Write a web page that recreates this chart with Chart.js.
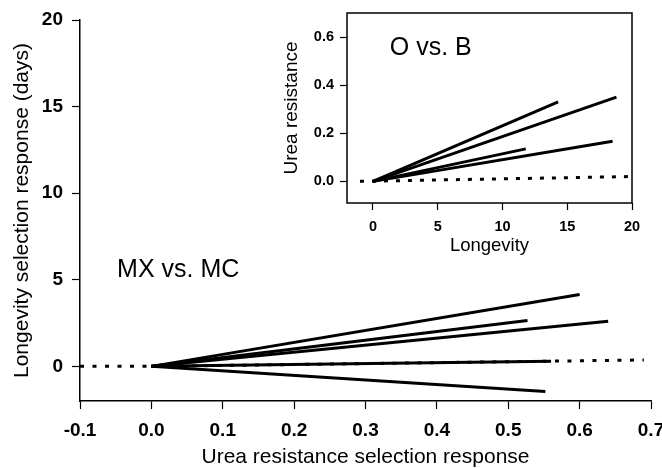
<!DOCTYPE html>
<html>
<head>
<meta charset="utf-8">
<script src="https://cdn.jsdelivr.net/npm/chart.js@4"></script>
<style>
  html, body { margin: 0; padding: 0; background: #fff; }
  #wrap { position: relative; width: 662px; height: 468px; }
  #mainChart { position: absolute; left: 0; top: 0; }
  #insetChart { position: absolute; left: 280px; top: 0; }
</style>
</head>
<body>
<div id="wrap">
  <canvas id="mainChart" width="662" height="468"></canvas>
  <canvas id="insetChart" width="382" height="260"></canvas>
</div>
<script>
// --- dati grafico principale (MX vs. MC) ---
const mainEndX = [0.60, 0.527, 0.64, 0.56, 0.552];
const mainEndY = [4.15, 2.65, 2.6, 0.3, -1.45];
const mainRefX = [-0.1, 0, 0.69];
const mainRefY = [0, 0, 0.37];
const mainXTicks = [-0.1, 0, 0.1, 0.2, 0.3, 0.4, 0.5, 0.6, 0.7];
const mainYTicks = [0, 5, 10, 15, 20];

// --- dati inserto (O vs. B) ---
const insetEndX = [14.3, 18.8, 11.8, 18.5];
const insetEndY = [0.33, 0.35, 0.135, 0.167];
const insetRefX = [-1, 20];
const insetRefY = [0, 0.02];
const insetXTicks = [0, 5, 10, 15, 20];
const insetYTicks = [0, 0.2, 0.4, 0.6];

const FONT = "'Liberation Sans', Arial, sans-serif";

function rayDatasets(endX, endY, width) {
  return endX.map((x, i) => ({
    data: [{ x: 0, y: 0 }, { x: x, y: endY[i] }],
    showLine: true,
    borderColor: "#000",
    borderWidth: width,
    pointRadius: 0,
    borderCapStyle: "butt",
  }));
}

function refDataset(xs, ys, dash) {
  return {
    data: xs.map((x, i) => ({ x: x, y: ys[i] })),
    showLine: true,
    borderColor: "#000",
    borderWidth: 3,
    borderDash: dash,
    pointRadius: 0,
  };
}

// Testo dentro il grafico, in coordinate dei dati
const labelPlugin = {
  id: "panelLabel",
  afterDatasetsDraw(chart, args, opts) {
    const { ctx, scales } = chart;
    ctx.save();
    ctx.font = opts.font;
    ctx.fillStyle = "#000";
    ctx.textAlign = "left";
    ctx.textBaseline = "middle";
    ctx.fillText(opts.text, scales.x.getPixelForValue(opts.x), scales.y.getPixelForValue(opts.y));
    ctx.restore();
  },
};

// Cornice completa per l'inserto
const framePlugin = {
  id: "frame",
  afterDraw(chart) {
    const { ctx, chartArea: a } = chart;
    ctx.save();
    ctx.strokeStyle = "#000";
    ctx.lineWidth = 1.5;
    ctx.strokeRect(a.left, a.top, a.right - a.left, a.bottom - a.top);
    ctx.restore();
  },
};

function fixedTicks(values) {
  return (scale) => {
    scale.ticks = values.map((v) => ({ value: v }));
  };
}

// ---------------- grafico principale ----------------
new Chart(document.getElementById("mainChart"), {
  type: "scatter",
  data: {
    datasets: [refDataset(mainRefX, mainRefY, [4, 8.5])].concat(rayDatasets(mainEndX, mainEndY, 3)),
  },
  options: {
    responsive: false,
    animation: false,
    layout: { padding: { top: 20, right: 11, left: 0, bottom: 0 } },
    plugins: {
      legend: { display: false },
      tooltip: { enabled: false },
      panelLabel: { text: "MX vs. MC", x: -0.048, y: 5.55, font: "25px " + FONT },
    },
    scales: {
      x: {
        type: "linear",
        min: -0.1,
        max: 0.7,
        afterBuildTicks: fixedTicks(mainXTicks),
        afterFit(s) { s.height = 67; s.paddingRight = 0; s.paddingLeft = 0; },
        grid: { display: true, drawOnChartArea: false, color: "#000", tickLength: 8, tickWidth: 1.2 },
        border: { display: true, color: "#000", width: 1.5 },
        ticks: {
          color: "#000",
          padding: 10,
          maxRotation: 0,
          autoSkip: false,
          font: { family: FONT, size: 19, weight: "bold" },
          callback: (v) => Number(v).toFixed(1),
        },
        title: {
          display: true,
          text: "Urea resistance selection response",
          color: "#000",
          padding: { top: 0, bottom: 0 },
          font: { family: FONT, size: 21, lineHeight: 1 },
        },
      },
      y: {
        min: -2,
        max: 20,
        afterBuildTicks: fixedTicks(mainYTicks),
        afterFit(s) { s.width = 80; s.paddingTop = 0; s.paddingBottom = 0; },
        grid: { display: true, drawOnChartArea: false, color: "#000", tickLength: 8, tickWidth: 1.2 },
        border: { display: true, color: "#000", width: 1.5 },
        ticks: {
          color: "#000",
          padding: 9,
          autoSkip: false,
          font: { family: FONT, size: 19, weight: "bold" },
        },
        title: {
          display: true,
          text: "Longevity selection response (days)",
          color: "#000",
          padding: { top: 11.5, bottom: 0 },
          font: { family: FONT, size: 21, lineHeight: 1 },
        },
      },
    },
  },
  plugins: [labelPlugin],
});

// ---------------- inserto ----------------
new Chart(document.getElementById("insetChart"), {
  type: "scatter",
  data: {
    datasets: [refDataset(insetRefX, insetRefY, [4, 8])].concat(rayDatasets(insetEndX, insetEndY, 3)),
  },
  options: {
    responsive: false,
    animation: false,
    layout: { padding: { top: 13, right: 30, left: 0, bottom: 0 } },
    plugins: {
      legend: { display: false },
      tooltip: { enabled: false },
      panelLabel: { text: "O vs. B", x: 1.3, y: 0.554, font: "25px " + FONT },
    },
    scales: {
      x: {
        type: "linear",
        min: -2,
        max: 20,
        afterBuildTicks: fixedTicks(insetXTicks),
        afterFit(s) { s.height = 57; s.paddingRight = 0; s.paddingLeft = 0; },
        grid: { display: true, drawOnChartArea: false, color: "#000", tickLength: 7, tickWidth: 1.2 },
        border: { display: false },
        ticks: {
          color: "#000",
          padding: 8,
          maxRotation: 0,
          autoSkip: false,
          font: { family: FONT, size: 14.5, weight: "bold" },
        },
        title: {
          display: true,
          text: "Longevity",
          color: "#000",
          padding: { top: 0, bottom: 5 },
          font: { family: FONT, size: 18.5, lineHeight: 1 },
        },
      },
      y: {
        min: -0.09,
        max: 0.7,
        afterBuildTicks: fixedTicks(insetYTicks),
        afterFit(s) { s.width = 67; s.paddingTop = 0; s.paddingBottom = 0; },
        grid: { display: true, drawOnChartArea: false, color: "#000", tickLength: 7, tickWidth: 1.2 },
        border: { display: false },
        ticks: {
          color: "#000",
          padding: 6,
          autoSkip: false,
          font: { family: FONT, size: 14.5, weight: "bold" },
          callback: (v) => Number(v).toFixed(1),
        },
        title: {
          display: true,
          text: "Urea resistance",
          color: "#000",
          padding: { top: 2.5, bottom: 0 },
          font: { family: FONT, size: 19, lineHeight: 1 },
        },
      },
    },
  },
  plugins: [labelPlugin, framePlugin],
});
</script>
</body>
</html>
